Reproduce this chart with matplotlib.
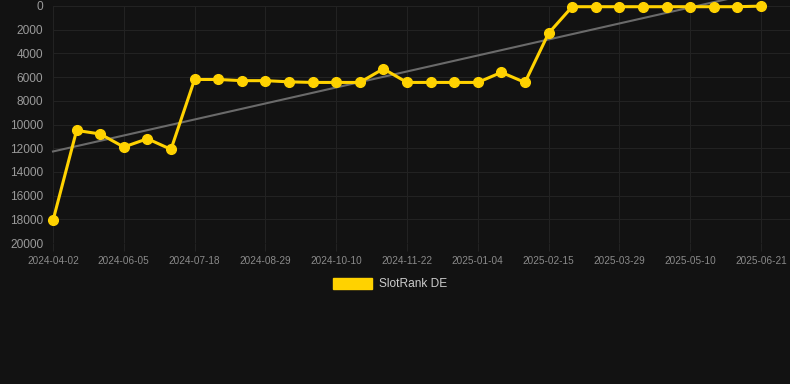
import numpy as np
import matplotlib
matplotlib.use("Agg")
import matplotlib.pyplot as plt
from matplotlib.patches import Patch

# --- Data: one rank sample per label (category axis, every 3rd label shown) ---
dates = ["2024-04-02", "2024-04-23", "2024-05-14", "2024-06-05", "2024-06-19",
         "2024-07-04", "2024-07-18", "2024-08-01", "2024-08-15", "2024-08-29",
         "2024-09-12", "2024-09-26", "2024-10-10", "2024-10-24", "2024-11-08",
         "2024-11-22", "2024-12-06", "2024-12-20", "2025-01-04", "2025-01-18",
         "2025-02-01", "2025-02-15", "2025-03-01", "2025-03-15", "2025-03-29",
         "2025-04-12", "2025-04-26", "2025-05-10", "2025-05-24", "2025-06-07",
         "2025-06-21"]
rank = [18100, 10500, 10800, 11900, 11200, 12100, 6200, 6200, 6300, 6300,
        6400, 6450, 6450, 6450, 5300, 6450, 6450, 6450, 6450, 5600,
        6450, 2300, 60, 60, 60, 60, 60, 60, 60, 60, 10]
series_name = "SlotRank DE"
y_ticks = list(range(0, 20001, 2000))

BG = "#121212"
YELLOW = "#FFD200"
GRID = "#222222"
plt.rcParams["font.family"] = ["Liberation Sans", "DejaVu Sans"]

x = np.arange(len(dates))
# linear trend over the series
slope, intercept = np.polyfit(x, rank, 1)

fig = plt.figure(figsize=(7.9, 3.84), dpi=100, facecolor=BG)
ax = fig.add_axes([53 / 790, 1 - 243 / 384, 1 - 53 / 790, (243 - 6) / 384])
ax.set_facecolor(BG)

ax.plot(x, slope * x + intercept, color="#6a6a6a", linewidth=1.5,
        zorder=2, clip_on=False)
ax.plot(x, rank, color=YELLOW, linewidth=2.2, marker="o", markersize=7,
        zorder=3, clip_on=False)

ax.set_ylim(20000, 0)
ax.set_xlim(0, len(dates) - 1 + 29 / 23.57)
ax.set_yticks(y_ticks)
ax.set_yticklabels([str(v) for v in y_ticks])
ax.set_xticks(x[::3])
ax.set_xticklabels(dates[::3])

ax.grid(True, color=GRID, linewidth=0.8, zorder=0)
for s in ax.spines.values():
    s.set_visible(False)
ax.tick_params(axis="y", length=0, pad=7, labelsize=8.6, labelcolor="#9a9a9a")
ax.tick_params(axis="x", length=6, width=0.8, color=GRID, pad=3,
               labelsize=7.2, labelcolor="#8a8a8a")

handle = Patch(facecolor=YELLOW, edgecolor=YELLOW)
fig.legend([handle], [series_name], loc="center",
           bbox_to_anchor=(0.5 - 5 / 790, 1 - 284 / 384),
           frameon=False, fontsize=8.6, labelcolor="#cccccc",
           handlelength=3.3, handleheight=1.1, handletextpad=0.6)

fig.savefig("out.png", dpi=100, facecolor=BG)
